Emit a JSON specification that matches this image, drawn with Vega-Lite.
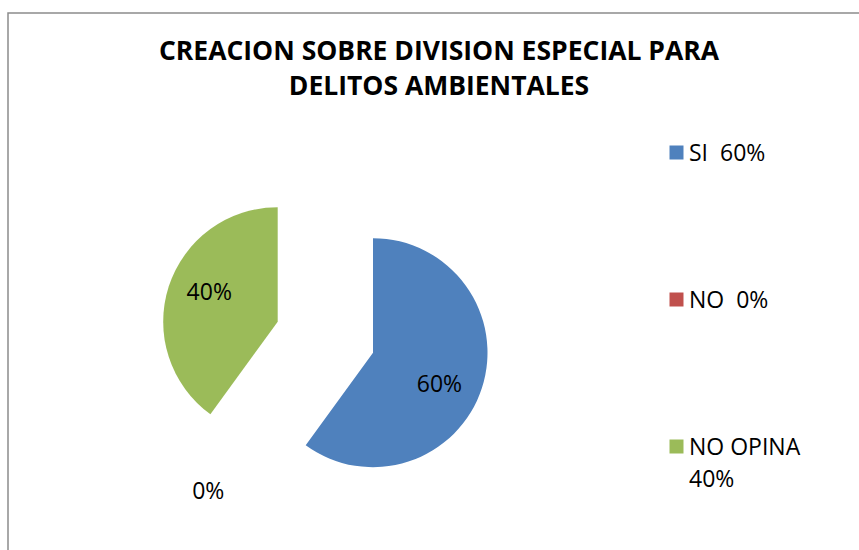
{
  "$schema": "https://vega.github.io/schema/vega-lite/v6.json",
  "width": 855,
  "height": 541,
  "autosize": {"type": "none"},
  "padding": {"left": 8, "top": 13, "right": -4, "bottom": -4},
  "background": "#ffffff",
  "view": {"stroke": "#8c8c8c", "strokeWidth": 1.5},
  "config": {
    "view": {"stroke": "#8c8c8c", "strokeWidth": 1.5},
    "font": "Open Sans",
    "text": {"font": "Open Sans", "fontSize": 23, "color": "#000000"}
  },
  "title": {
    "text": ["CREACION SOBRE DIVISION ESPECIAL PARA", "DELITOS AMBIENTALES"],
    "anchor": "middle",
    "font": "Open Sans",
    "fontSize": 26.5,
    "fontWeight": "bold",
    "color": "#000000",
    "lineHeight": 34.5,
    "baseline": "top",
    "offset": -87,
    "dx": 3.5
  },
  "data": {
    "values": [
      {"cat": "SI", "pct": 0.6, "n": 1},
      {"cat": "NO", "pct": 0, "n": 2},
      {"cat": "NO OPINA", "pct": 0.4, "n": 3}
    ]
  },
  "encoding": {
    "theta": {"field": "pct", "type": "quantitative", "stack": true},
    "order": {"field": "n", "type": "quantitative"}
  },
  "layer": [
    {
      "mark": {"type": "arc", "outerRadius": 114.5, "xOffset": -62.5, "yOffset": 69.2},
      "encoding": {
        "color": {
          "field": "cat",
          "type": "nominal",
          "scale": {"domain": ["SI", "NO", "NO OPINA"], "range": ["#4F81BD", "#C0504D", "#9BBB59"]},
          "legend": {
            "orient": "none",
            "legendX": 657,
            "legendY": 128,
            "title": null,
            "padding": 0,
            "symbolType": "square",
            "symbolSize": 196,
            "symbolStrokeWidth": 0,
            "labelFont": "Open Sans",
            "labelFontSize": 23,
            "labelColor": "#000000",
            "labelOffset": 1,
            "labelBaseline": "top",
            "labelLimit": 300,
            "rowPadding": 122,
            "labelExpr": "datum.label == 'SI' ? 'SI\u00a0 60%' : datum.label == 'NO' ? 'NO\u00a0 0%' : ['NO OPINA', '40%']",
            "encoding": {"labels": {"dy": {"value": -10}, "lineHeight": {"value": 32}}}
          }
        },
        "opacity": {"condition": {"test": "datum.cat == 'NO OPINA'", "value": 0}, "value": 1}
      }
    },
    {
      "mark": {"type": "arc", "outerRadius": 114.5, "xOffset": -157.8, "yOffset": 38.2},
      "encoding": {
        "color": {"field": "cat", "type": "nominal"},
        "opacity": {"condition": {"test": "datum.cat != 'NO OPINA'", "value": 0}, "value": 1}
      }
    },
    {
      "mark": {"type": "text", "radius": 73, "xOffset": -62.5, "yOffset": 69.2, "dx": -3, "dy": 10, "fontSize": 23},
      "encoding": {
        "text": {"condition": {"test": "datum.cat != 'SI'", "value": ""}, "field": "pct", "format": ".0%"}
      }
    },
    {
      "mark": {"type": "text", "radius": 73, "xOffset": -157.8, "yOffset": 38.2, "dx": 1, "dy": -6.3, "fontSize": 23},
      "encoding": {
        "text": {"condition": {"test": "datum.cat != 'NO OPINA'", "value": ""}, "field": "pct", "format": ".0%"}
      }
    },
    {
      "mark": {"type": "text", "radius": 0, "xOffset": -227.2, "yOffset": 208.3, "fontSize": 23},
      "encoding": {
        "text": {"condition": {"test": "datum.cat != 'NO'", "value": ""}, "field": "pct", "format": ".0%"}
      }
    }
  ]
}
